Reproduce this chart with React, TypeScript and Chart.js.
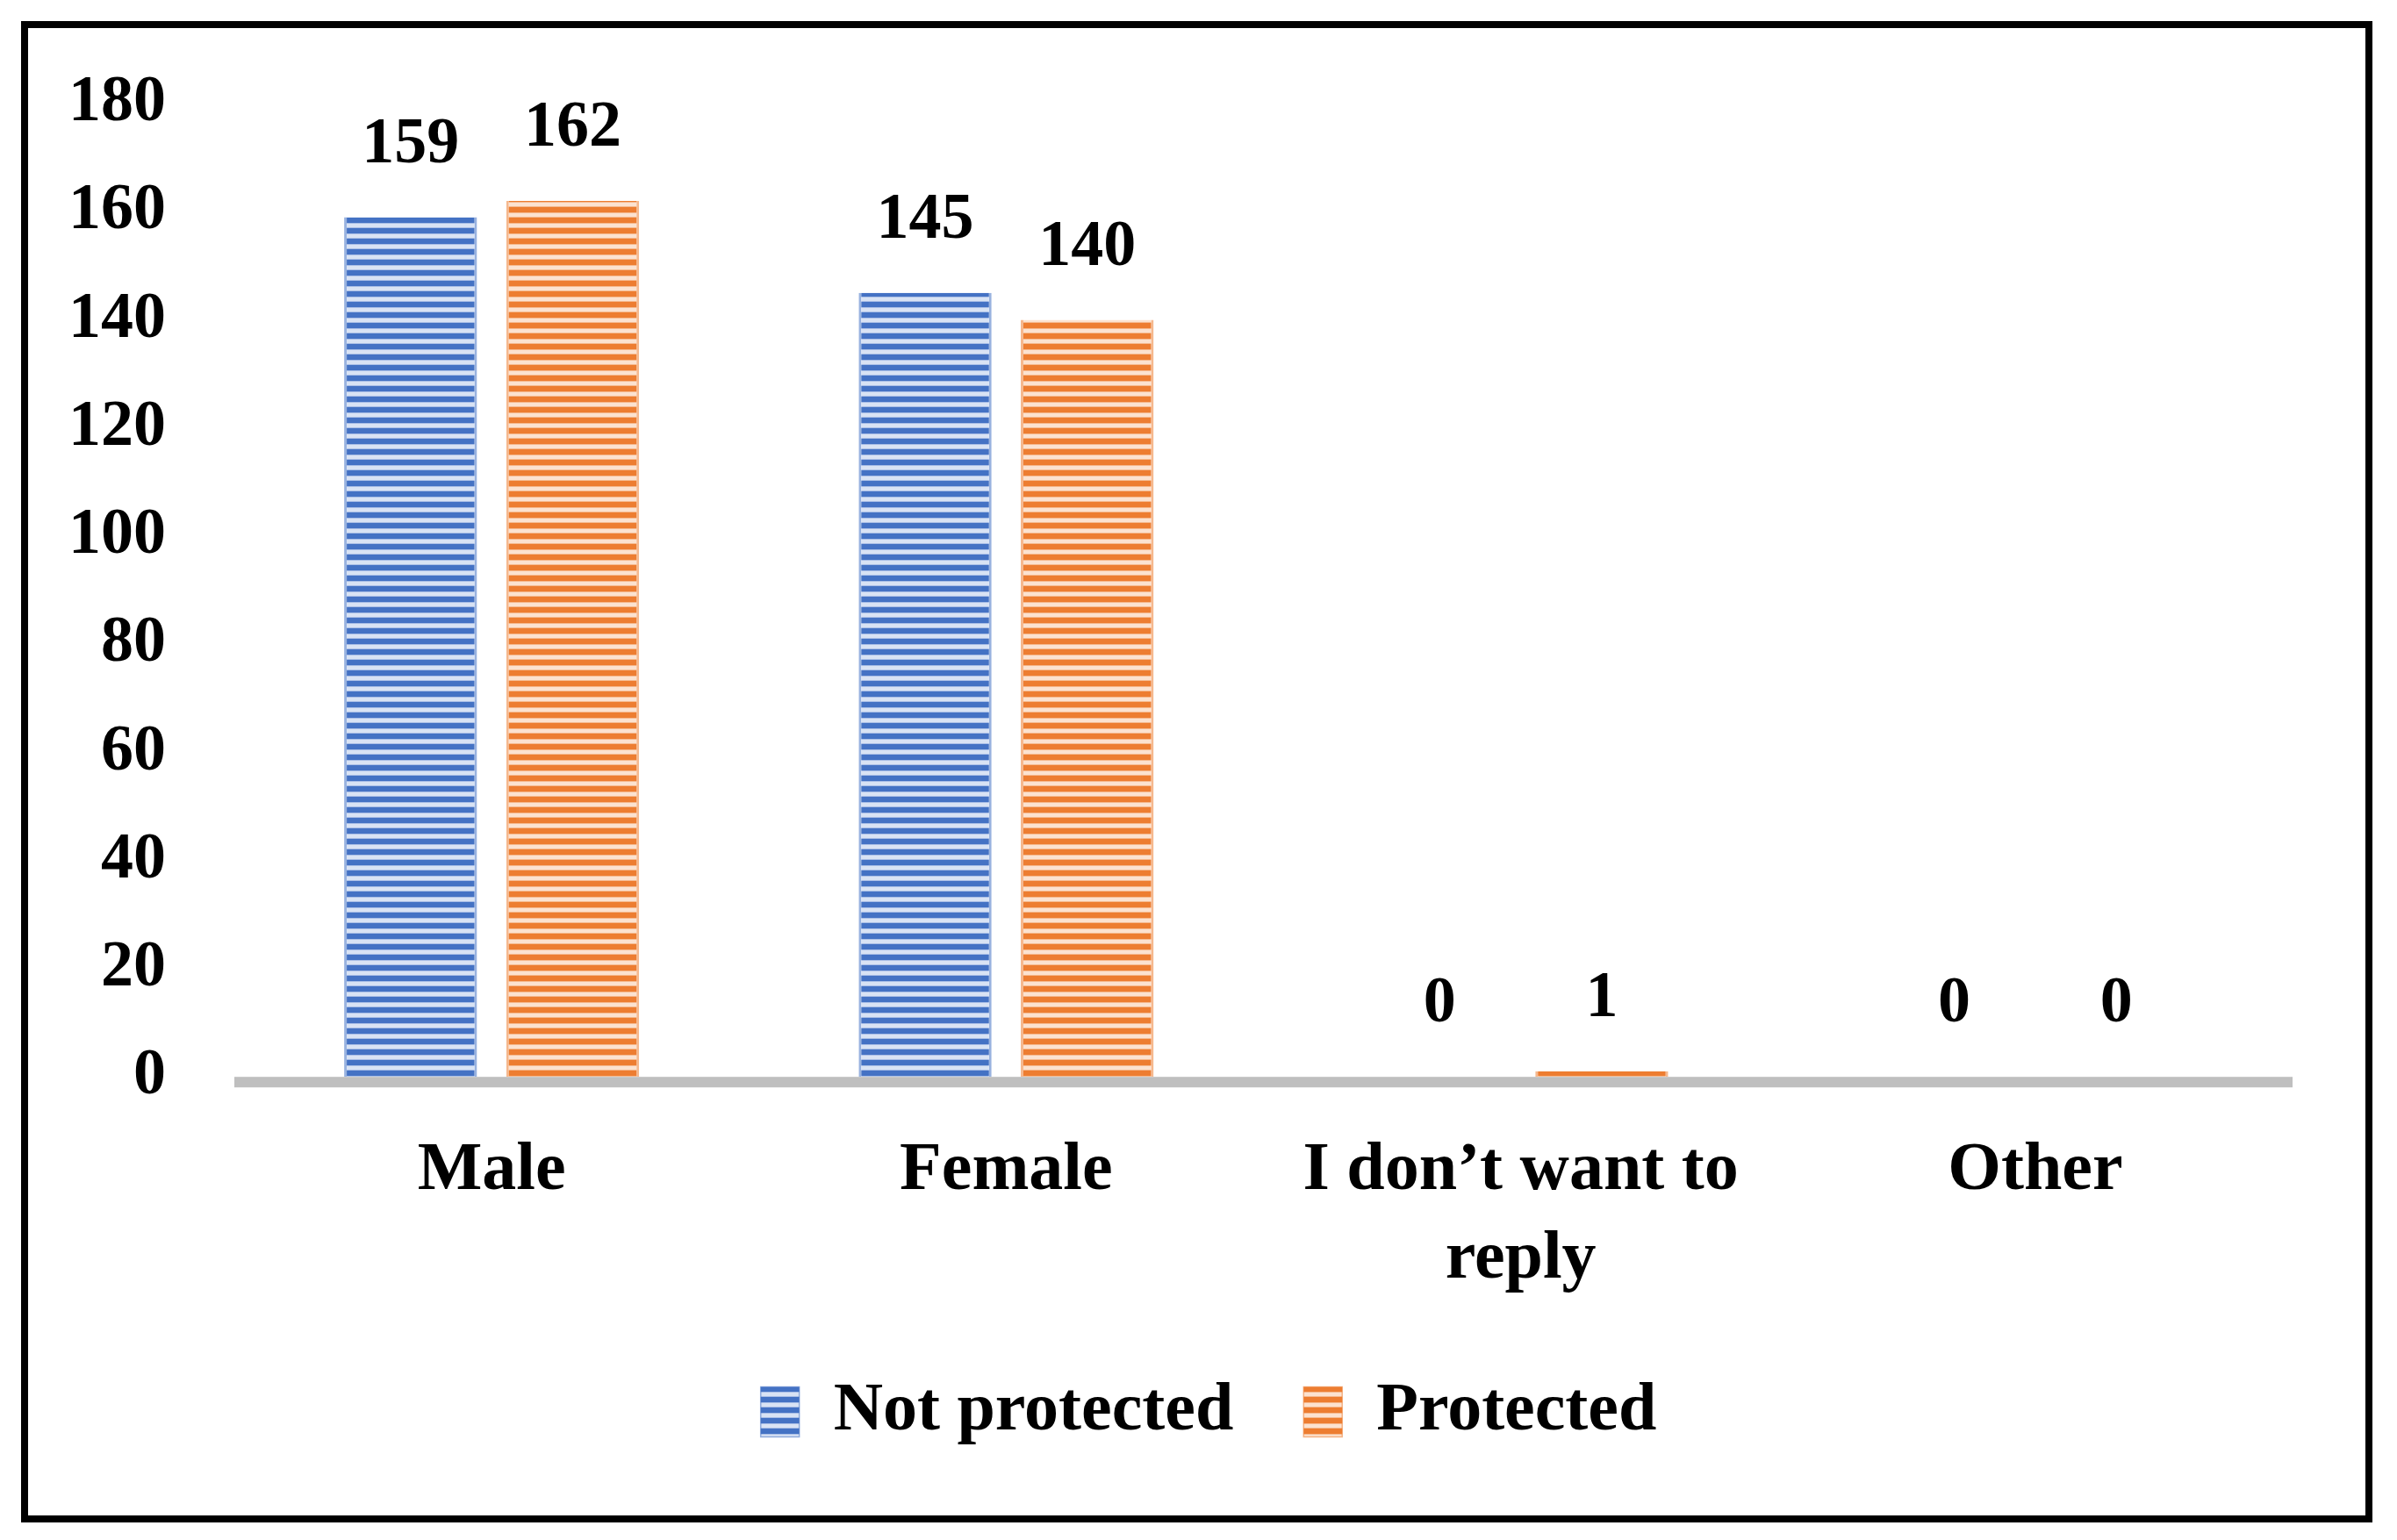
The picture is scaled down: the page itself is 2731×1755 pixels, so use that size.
import React, { useEffect, useRef } from "react";
import { Chart, registerables } from "chart.js";

Chart.register(...registerables);

const categories: (string | string[])[] = ["Male", "Female", ["I don\u2019t want to", "reply"], "Other"];
const notProtected = [159, 145, 0, 0];
const protectedVals = [162, 140, 1, 0];
const seriesNames = ["Not protected", "Protected"];
const yTicks = [0, 20, 40, 60, 80, 100, 120, 140, 160, 180];

const FONT = "'Liberation Serif', 'Times New Roman', serif";

function makeStripe(dark: string, mid: string, light: string): CanvasPattern | string {
  const c = document.createElement("canvas");
  c.width = 4;
  c.height = 12;
  const g = c.getContext("2d");
  if (!g) return dark;
  g.fillStyle = dark;
  g.fillRect(0, 0, 4, 6);
  g.fillStyle = mid;
  g.fillRect(0, 6, 4, 1);
  g.fillStyle = light;
  g.fillRect(0, 7, 4, 4);
  g.fillStyle = mid;
  g.fillRect(0, 11, 4, 1);
  const p = g.createPattern(c, "repeat");
  return p || dark;
}

const valueLabels = {
  id: "valueLabels",
  afterDatasetsDraw(chart: any) {
    const ctx = chart.ctx;
    ctx.save();
    ctx.font = `bold 74px ${FONT}`;
    ctx.fillStyle = "#000";
    ctx.textAlign = "center";
    ctx.textBaseline = "middle";
    chart.data.datasets.forEach((ds: any, di: number) => {
      const meta = chart.getDatasetMeta(di);
      meta.data.forEach((bar: any, i: number) => {
        ctx.fillText(String(ds.data[i]), bar.x, bar.y - 82);
      });
    });
    ctx.restore();
  },
};

const baseline = {
  id: "baseline",
  afterDatasetsDraw(chart: any) {
    const ctx = chart.ctx;
    const y0 = chart.scales.y.getPixelForValue(0);
    const { left, right } = chart.chartArea;
    ctx.save();
    ctx.fillStyle = "#BFBFBF";
    ctx.fillRect(left, y0, right - left, 12);
    ctx.restore();
  },
};

const legendShift = {
  id: "legendShift",
  afterLayout(chart: any) {
    if (chart.legend) {
      chart.legend.left += 32;
      chart.legend.right += 32;
    }
  },
};

export default function App() {
  const ref = useRef<HTMLCanvasElement | null>(null);

  useEffect(() => {
    if (!ref.current) return;
    const blue = makeStripe("#4472C4", "#A9BEE6", "#D9E3F4");
    const orange = makeStripe("#ED7D31", "#F5B98E", "#FCE2D0");
    const chart = new Chart(ref.current, {
      type: "bar",
      data: {
        labels: categories,
        datasets: [
          {
            label: seriesNames[0],
            data: notProtected,
            backgroundColor: blue as any,
            borderColor: "rgba(68,114,196,0.55)",
            borderWidth: { left: 3, right: 3, top: 0, bottom: 0 } as any,
            categoryPercentage: 0.63,
            barPercentage: 0.82,
          },
          {
            label: seriesNames[1],
            data: protectedVals,
            backgroundColor: orange as any,
            borderColor: "rgba(237,125,49,0.55)",
            borderWidth: { left: 3, right: 3, top: 0, bottom: 0 } as any,
            categoryPercentage: 0.63,
            barPercentage: 0.82,
          },
        ],
      },
      options: {
        animation: false,
        responsive: false,
        maintainAspectRatio: false,
        layout: { padding: { left: 46, right: 83, top: 86, bottom: 69 } },
        scales: {
          x: {
            grid: { display: false, drawTicks: false },
            border: { display: false },
            afterFit: (axis: any) => {
              axis.height -= 54;
            },
            ticks: {
              color: "#000",
              padding: 57,
              maxRotation: 0,
              autoSkip: false,
              font: { family: FONT, size: 78, weight: "bold", lineHeight: 1.3 },
            },
          },
          y: {
            min: 0,
            max: 180,
            afterBuildTicks: (axis: any) => {
              axis.ticks = yTicks.map((v) => ({ value: v }));
            },
            afterFit: (axis: any) => {
              axis.width = 189;
              axis.paddingTop = 0;
              axis.paddingBottom = 0;
            },
            grid: { display: false, drawTicks: false },
            border: { display: false },
            ticks: {
              color: "#000",
              padding: 78,
              font: { family: FONT, size: 74, weight: "bold" },
            },
          },
        },
        plugins: {
          legend: {
            position: "bottom",
            labels: {
              color: "#000",
              boxWidth: 44,
              boxHeight: 57,
              padding: 80,
              font: { family: FONT, size: 78, weight: "bold" },
            },
          },
          tooltip: { enabled: false },
        },
      },
      plugins: [baseline, valueLabels, legendShift],
    });
    return () => chart.destroy();
  }, []);

  return (
    <div style={{ position: "relative", width: 2715, height: 1735 }}>
      <div
        style={{
          position: "absolute",
          left: 16,
          top: 16,
          width: 2679,
          height: 1711,
          border: "8px solid #000",
          boxSizing: "border-box",
          background: "#fff",
        }}
      >
        <canvas ref={ref} width={2663} height={1695} style={{ display: "block" }} />
      </div>
    </div>
  );
}
